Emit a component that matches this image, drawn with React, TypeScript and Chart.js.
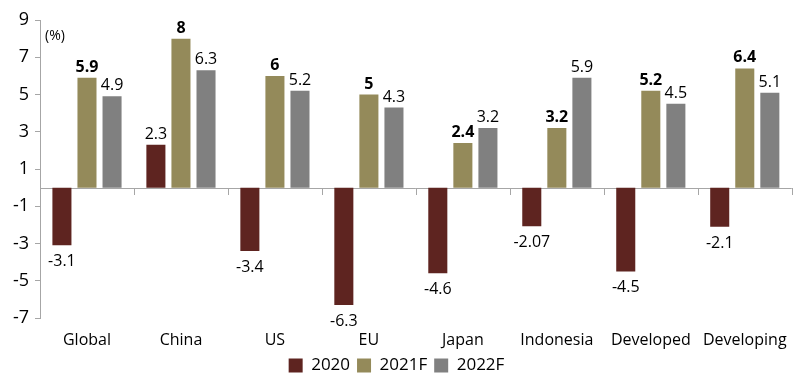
import React, { useEffect, useRef } from "react";
import { Chart, registerables } from "chart.js";

Chart.register(...registerables);

const categories = ["Global", "China", "US", "EU", "Japan", "Indonesia", "Developed", "Developing"];
const series2020 = [-3.1, 2.3, -3.4, -6.3, -4.6, -2.07, -4.5, -2.1];
const series2021F = [5.9, 8, 6, 5, 2.4, 3.2, 5.2, 6.4];
const series2022F = [4.9, 6.3, 5.2, 4.3, 3.2, 5.9, 4.5, 5.1];
const seriesNames = ["2020", "2021F", "2022F"];
const yMin = -7;
const yMax = 9;
const yStep = 2;
const unitLabel = "(%)";

const FONT = "'Open Sans', sans-serif";

const overlayPlugin = {
  id: "overlay",
  beforeDatasetsDraw(chart: any) {
    const { ctx, chartArea, scales } = chart;
    const y0 = scales.y.getPixelForValue(0);
    ctx.save();
    ctx.strokeStyle = "#a6a6a6";
    ctx.lineWidth = 1;
    ctx.beginPath();
    ctx.moveTo(chartArea.left, Math.round(y0) + 0.5);
    ctx.lineTo(chartArea.right, Math.round(y0) + 0.5);
    const n = chart.data.labels.length;
    const w = (chartArea.right - chartArea.left) / n;
    for (let i = 1; i <= n; i++) {
      const x = Math.round(chartArea.left + w * i) + 0.5;
      ctx.moveTo(x, Math.round(y0));
      ctx.lineTo(x, Math.round(y0) + 7);
    }
    ctx.stroke();
    ctx.fillStyle = "#000";
    ctx.font = `14px ${FONT}`;
    ctx.textAlign = "left";
    ctx.textBaseline = "middle";
    ctx.fillText(unitLabel, chartArea.left + 5, 36);
    ctx.restore();
  },
  afterDatasetsDraw(chart: any) {
    const { ctx } = chart;
    ctx.save();
    ctx.fillStyle = "#000";
    ctx.textAlign = "center";
    ctx.textBaseline = "alphabetic";
    chart.data.datasets.forEach((ds: any, di: number) => {
      const meta = chart.getDatasetMeta(di);
      ctx.font = `${di === 1 ? "bold " : ""}16px ${FONT}`;
      meta.data.forEach((el: any, i: number) => {
        const v = ds.data[i];
        const txt = String(v);
        if (v >= 0) {
          ctx.fillText(txt, el.x, el.y - 6);
        } else {
          ctx.fillText(txt, el.x, el.y + 21);
        }
      });
    });
    ctx.restore();
  },
};

export default function App() {
  const ref = useRef<HTMLCanvasElement>(null);
  useEffect(() => {
    if (!ref.current) return;
    const chart = new Chart(ref.current, {
      type: "bar",
      data: {
        labels: categories,
        datasets: [
          { label: seriesNames[0], data: series2020, backgroundColor: "#5e2420" },
          { label: seriesNames[1], data: series2021F, backgroundColor: "#948a5a" },
          { label: seriesNames[2], data: series2022F, backgroundColor: "#808080" },
        ],
      },
      options: {
        animation: false,
        responsive: false,
        maintainAspectRatio: false,
        layout: { padding: { left: 0, right: 7, top: 20, bottom: 0 } },
        datasets: { bar: { categoryPercentage: 0.8, barPercentage: 0.76 } },
        plugins: {
          legend: {
            position: "bottom",
            labels: {
              boxWidth: 14,
              boxHeight: 14,
              padding: 7,
              color: "#000",
              font: { family: FONT, size: 17 },
            },
          },
          tooltip: { enabled: false },
        },
        scales: {
          x: {
            grid: { display: false, drawTicks: false, tickLength: 0 },
            border: { display: false },
            ticks: { color: "#000", font: { family: FONT, size: 16 }, padding: 13 },
            afterFit: (s: any) => { s.height = 32; },
          },
          y: {
            min: yMin,
            max: yMax,
            ticks: { stepSize: yStep, color: "#000", font: { family: FONT, size: 18 }, padding: 6 },
            grid: { drawOnChartArea: false, drawTicks: true, tickLength: 5, color: "#a6a6a6" },
            border: { display: true, color: "#a6a6a6" },
            afterFit: (s: any) => { s.width = 40; },
          },
        },
      },
      plugins: [overlayPlugin],
    });
    return () => chart.destroy();
  }, []);
  return (
    <div style={{ position: "fixed", left: 0, top: 0, width: 800, height: 384, background: "#fff" }}>
      <canvas ref={ref} width={800} height={384} style={{ width: 800, height: 384 }} />
    </div>
  );
}
